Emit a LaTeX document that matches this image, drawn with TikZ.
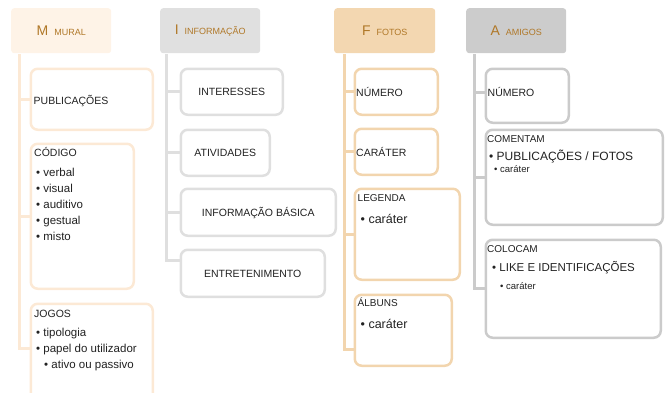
\documentclass[tikz,border=0pt]{standalone}
\usepackage{fontspec}
\setmainfont{Liberation Sans}
\usetikzlibrary{positioning}

\definecolor{muralfill}{HTML}{FEF3E7}
\definecolor{muralline}{HTML}{FCE9D5}
\definecolor{infofill}{HTML}{E0E0E0}
\definecolor{infoline}{HTML}{DFDFDF}
\definecolor{fotofill}{HTML}{F3D7B1}
\definecolor{fotoline}{HTML}{F2D5AE}
\definecolor{amigofill}{HTML}{CCCCCC}
\definecolor{amigoline}{HTML}{CBCBCB}
\definecolor{headtxt}{HTML}{B07828}
\definecolor{bodytxt}{HTML}{222222}

\newcommand{\hd}[2]{{\fontsize{14}{14}\selectfont #1}\hspace{6pt}{\fontsize{9}{9}\selectfont #2}}
\newcommand{\sz}[1]{\fontsize{#1}{16}\selectfont}

\tikzset{
  head/.style={anchor=north west, rounded corners=3pt, minimum width=100pt, minimum height=45pt, inner sep=0pt, text=headtxt},
  sub/.style={draw, anchor=north west, rounded corners=7pt, line width=2.5pt, fill=white, inner sep=0pt, text=bodytxt, font=\sz{10.5}, text height=7.5pt, text depth=0pt},
  lbl/.style={anchor=west, inner sep=0pt, text=bodytxt, font=\sz{10.5}, text height=7.5pt, text depth=0pt},
  lst/.style={anchor=north west, inner sep=0pt, align=left, text=bodytxt},
  trunk/.style={line width=3pt},
}

\begin{document}
\begin{tikzpicture}[x=1pt, y=-1pt]
    \useasboundingbox (0,0) rectangle (666,392);

    % headers
    \node[head, fill=muralfill] (mural) at (11,8) {\hd{M}{MURAL}};
    \node[head, fill=infofill] (info) at (160,8) {\hd{I}{INFORMAÇÃO}};
    \node[head, fill=fotofill, minimum width=101pt] (fotos) at (334,8) {\hd{F}{FOTOS}};
    \node[head, fill=amigofill] (amigos) at (466,8) {\hd{A}{AMIGOS}};

    % mural
    \node[sub, draw=muralline, minimum width=122pt, minimum height=61pt] (publ) at (29.5,67.5) {};
    \node[lbl] (publ-t) at ([xshift=4pt, yshift=-1pt]publ.west) {PUBLICAÇÕES};
    \node[sub, draw=muralline, minimum width=103pt, minimum height=145pt] (codigo) at (29.5,142.5) {};
    \node[lst, font=\sz{10.5}] (codigo-t) at ([shift={(4.5pt,-5pt)}]codigo.north west)
        {CÓDIGO\\[3.5pt] \hspace{2pt}{\sz{11.5}• verbal}\\ \hspace{2pt}{\sz{11.5}• visual}\\ \hspace{2pt}{\sz{11.5}• auditivo}\\
         \hspace{2pt}{\sz{11.5}• gestual}\\ \hspace{2pt}{\sz{11.5}• misto}};
    \node[sub, draw=muralline, minimum width=122pt, minimum height=100pt] (jogos) at (29.5,302.5) {};
    \node[lst, font=\sz{10.5}] (jogos-t) at ([shift={(4.5pt,-7pt)}]jogos.north west)
        {JOGOS\\[3.5pt] \hspace{2pt}{\sz{11.5}• tipologia}\\ \hspace{2pt}{\sz{11.5}• papel do utilizador}\\
         \hspace{10pt}{\sz{11.5}• ativo ou passivo}};

    % informacao
    \node[sub, draw=infoline, minimum width=102pt, minimum height=46pt] (interesses) at (179.5,67.5) {INTERESSES};
    \node[sub, draw=infoline, minimum width=89pt, minimum height=46pt] (atividades) at (179.5,128.5) {ATIVIDADES};
    \node[sub, draw=infoline, minimum width=155pt, minimum height=47pt] (basica) at (179.5,187.5) {INFORMAÇÃO BÁSICA};
    \node[sub, draw=infoline, minimum width=144pt, minimum height=47pt] (entret) at (179.5,248.5) {ENTRETENIMENTO};

    % fotos
    \node[sub, draw=fotoline, minimum width=83pt, minimum height=46pt] (fnumero) at (353.5,67.5) {};
    \node[lbl] (fnumero-t) at ([xshift=2.5pt, yshift=-1pt]fnumero.west) {NÚMERO};
    \node[sub, draw=fotoline, minimum width=83pt, minimum height=46pt] (carater) at (353.5,127.5) {};
    \node[lbl] (carater-t) at ([xshift=2.5pt, yshift=-1pt]carater.west) {CARÁTER};
    \node[sub, draw=fotoline, minimum width=105pt, minimum height=91pt] (legenda) at (353.5,187.5) {};
    \node[lst, font=\sz{10}] (legenda-t) at ([shift={(4pt,-6.5pt)}]legenda.north west)
        {LEGENDA\\[6pt] \hspace{3pt}{\fontsize{12.5}{16}\selectfont • caráter}};
    \node[sub, draw=fotoline, minimum width=97pt, minimum height=71pt] (albuns) at (353.5,293.5) {};
    \node[lst, font=\sz{10}] (albuns-t) at ([shift={(4pt,-4.5pt)}]albuns.north west)
        {ÁLBUNS\\[5.8pt] \hspace{3pt}{\fontsize{12.5}{16}\selectfont • caráter}};

    % amigos
    \node[sub, draw=amigoline, minimum width=83pt, minimum height=54pt] (anumero) at (484.5,67.5) {};
    \node[lbl] (anumero-t) at ([shift={(3pt,3pt)}]anumero.west) {NÚMERO};
    \node[sub, draw=amigoline, minimum width=177pt, minimum height=95pt] (comentam) at (484.5,128.5) {};
    \node[lst, font=\sz{10}] (comentam-t) at ([shift={(2.5pt,-6.75pt)}]comentam.north west)
        {COMENTAM\\[2.5pt] \hspace{2pt}{\fontsize{12}{16}\selectfont • PUBLICAÇÕES / FOTOS}\\[-4.5pt]
         \hspace{7pt}{\fontsize{9.5}{16}\selectfont • caráter}};
    \node[sub, draw=amigoline, minimum width=175pt, minimum height=98pt] (colocam) at (484.5,238.5) {};
    \node[lst, font=\sz{10}] (colocam-t) at ([shift={(2.5pt,-6.75pt)}]colocam.north west)
        {COLOCAM\\[3.4pt] \hspace{5pt}{\fontsize{11.5}{16}\selectfont • LIKE E IDENTIFICAÇÕES}\\[1.4pt]
         \hspace{13pt}{\fontsize{9.5}{16}\selectfont • caráter}};

    % trunks and branches
    \coordinate (mroot) at ([xshift=8.5pt, yshift=-1pt]mural.south west);
    \draw[trunk, muralline] (mroot) |- ([yshift=-45.5pt]jogos.north west);
    \draw[trunk, muralline] (mroot |- publ.west) -- (publ.west);
    \draw[trunk, muralline] (mroot |- codigo.west) -- (codigo.west);

    \coordinate (iroot) at ([xshift=6.5pt, yshift=-1pt]info.south west);
    \draw[trunk, infoline] (iroot) |- ([yshift=-11.5pt]entret.north west);
    \draw[trunk, infoline] (iroot |- interesses.west) -- (interesses.west);
    \draw[trunk, infoline] (iroot |- atividades.west) -- (atividades.west);
    \draw[trunk, infoline] (iroot |- basica.west) -- (basica.west);

    \coordinate (froot) at ([xshift=10pt, yshift=-1pt]fotos.south west);
    \draw[trunk, fotoline] (froot) |- ([yshift=17.5pt]albuns.south west);
    \draw[trunk, fotoline] (froot |- fnumero.west) -- (fnumero.west);
    \draw[trunk, fotoline] (froot |- carater.west) -- (carater.west);
    \draw[trunk, fotoline] (froot |- legenda.west) -- (legenda.west);

    \coordinate (aroot) at ([xshift=8pt, yshift=-1pt]amigos.south west);
    \draw[trunk, amigoline] (aroot) |- (colocam.west);
    \draw[trunk, amigoline] (aroot |- anumero-t.west) -- (anumero.west |- anumero-t.west);
    \draw[trunk, amigoline] (aroot |- comentam.west) -- (comentam.west);
\end{tikzpicture}
\end{document}
